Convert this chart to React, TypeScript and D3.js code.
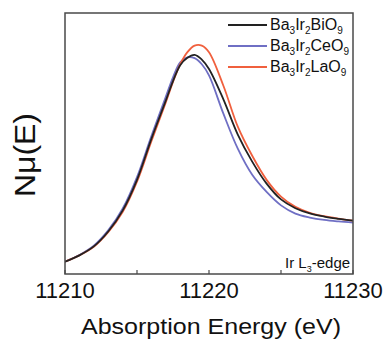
import React from "react";
import * as d3 from "d3";

// Ir L3-edge XANES
const energy = [
  11210, 11211, 11212, 11213, 11214, 11215, 11216, 11217, 11217.5, 11218,
  11218.5, 11219, 11219.5, 11220, 11221, 11222, 11223, 11224, 11225, 11226,
  11227, 11228, 11229, 11230,
];

const biO9 = [
  0.266, 0.3, 0.348, 0.428, 0.54, 0.705, 0.925, 1.13, 1.235, 1.32, 1.36,
  1.375, 1.35, 1.3, 1.137, 0.948, 0.803, 0.685, 0.6, 0.553, 0.525, 0.508,
  0.496, 0.486,
];
const ceO9 = [
  0.266, 0.302, 0.352, 0.434, 0.55, 0.72, 0.94, 1.15, 1.255, 1.335, 1.362,
  1.358, 1.325, 1.265, 1.06, 0.872, 0.732, 0.64, 0.568, 0.524, 0.503, 0.49,
  0.482, 0.476,
];
const laO9 = [
  0.266, 0.3, 0.346, 0.424, 0.532, 0.695, 0.912, 1.12, 1.23, 1.325, 1.39,
  1.425, 1.425, 1.39, 1.21, 0.99, 0.834, 0.705, 0.615, 0.56, 0.528, 0.51,
  0.497, 0.486,
];

const seriesNames = [
  ["Ba", "3", "Ir", "2", "BiO", "9"],
  ["Ba", "3", "Ir", "2", "CeO", "9"],
  ["Ba", "3", "Ir", "2", "LaO", "9"],
];
const seriesValues = [biO9, ceO9, laO9];
const seriesColors = ["#222222", "#6f6fc4", "#f0603e"];

const xTicks = [11210, 11220, 11230];
const xMinorTicks = [11215, 11225];

const W = 383;
const H = 342;
const left = 65;
const right = 353;
const top = 13;
const bottom = 274;
const font = "Arial, 'Liberation Sans', sans-serif";

export default function App() {
  const x = d3.scaleLinear().domain([11210, 11230]).range([left, right]);
  const y = d3.scaleLinear().domain([0.2, 1.6]).range([bottom, top]);

  const line = d3
    .line<number>()
    .x((_, i) => x(energy[i]))
    .y((d) => y(d))
    .curve(d3.curveCatmullRom.alpha(0.5));

  return (
    <svg
      width={W}
      height={H}
      style={{ position: "absolute", left: 0, top: 0, background: "#fff" }}
      fontFamily={font}
    >
      <defs>
        <clipPath id="plot">
          <rect x={left} y={top} width={right - left} height={bottom - top} />
        </clipPath>
      </defs>

      <g clipPath="url(#plot)">
        {/* draw order: blue, red, black on top near the peak */}
        {[1, 2, 0].map((k) => (
          <path
            key={k}
            d={line(seriesValues[k]) ?? ""}
            fill="none"
            stroke={seriesColors[k]}
            strokeWidth={1.8}
          />
        ))}
      </g>

      <rect
        x={left}
        y={top}
        width={right - left}
        height={bottom - top}
        fill="none"
        stroke="#4a4a4a"
        strokeWidth={1.5}
      />

      {[...xTicks, ...xMinorTicks].map((t) => (
        <line
          key={t}
          x1={x(t)}
          x2={x(t)}
          y1={bottom}
          y2={bottom - 4}
          stroke="#4a4a4a"
          strokeWidth={1.2}
        />
      ))}

      {xTicks.map((t) => (
        <text
          key={t}
          x={x(t)}
          y={298}
          textAnchor="middle"
          fontSize={22}
          fill="#111"
        >
          {t}
        </text>
      ))}

      <text
        x={(left + right) / 2 + 2}
        y={334}
        textAnchor="middle"
        fontSize={22}
        textLength={260}
        lengthAdjust="spacingAndGlyphs"
        fill="#111"
      >
        Absorption Energy (eV)
      </text>

      <text
        transform={`translate(35,155) rotate(-90)`}
        textAnchor="middle"
        fontSize={29}
        textLength={84}
        lengthAdjust="spacingAndGlyphs"
        fill="#111"
      >
        Nμ(E)
      </text>

      {seriesNames.map((parts, i) => {
        const ly = 25 + i * 21;
        return (
          <g key={i}>
            <line
              x1={228}
              x2={267}
              y1={ly}
              y2={ly}
              stroke={seriesColors[i]}
              strokeWidth={2}
            />
            <text x={270} y={ly + 5} fontSize={16} fill="#111">
              {parts.map((p, j) =>
                j % 2 === 1 ? (
                  <tspan key={j} fontSize={10} dy={4}>
                    {p}
                  </tspan>
                ) : (
                  <tspan key={j} dy={j === 0 ? 0 : -4}>
                    {p}
                  </tspan>
                ),
              )}
            </text>
          </g>
        );
      })}

      <text x={285} y={268} fontSize={15} fill="#111">
        Ir L
        <tspan fontSize={9} dy={4}>
          3
        </tspan>
        <tspan dy={-4}>-edge</tspan>
      </text>
    </svg>
  );
}
